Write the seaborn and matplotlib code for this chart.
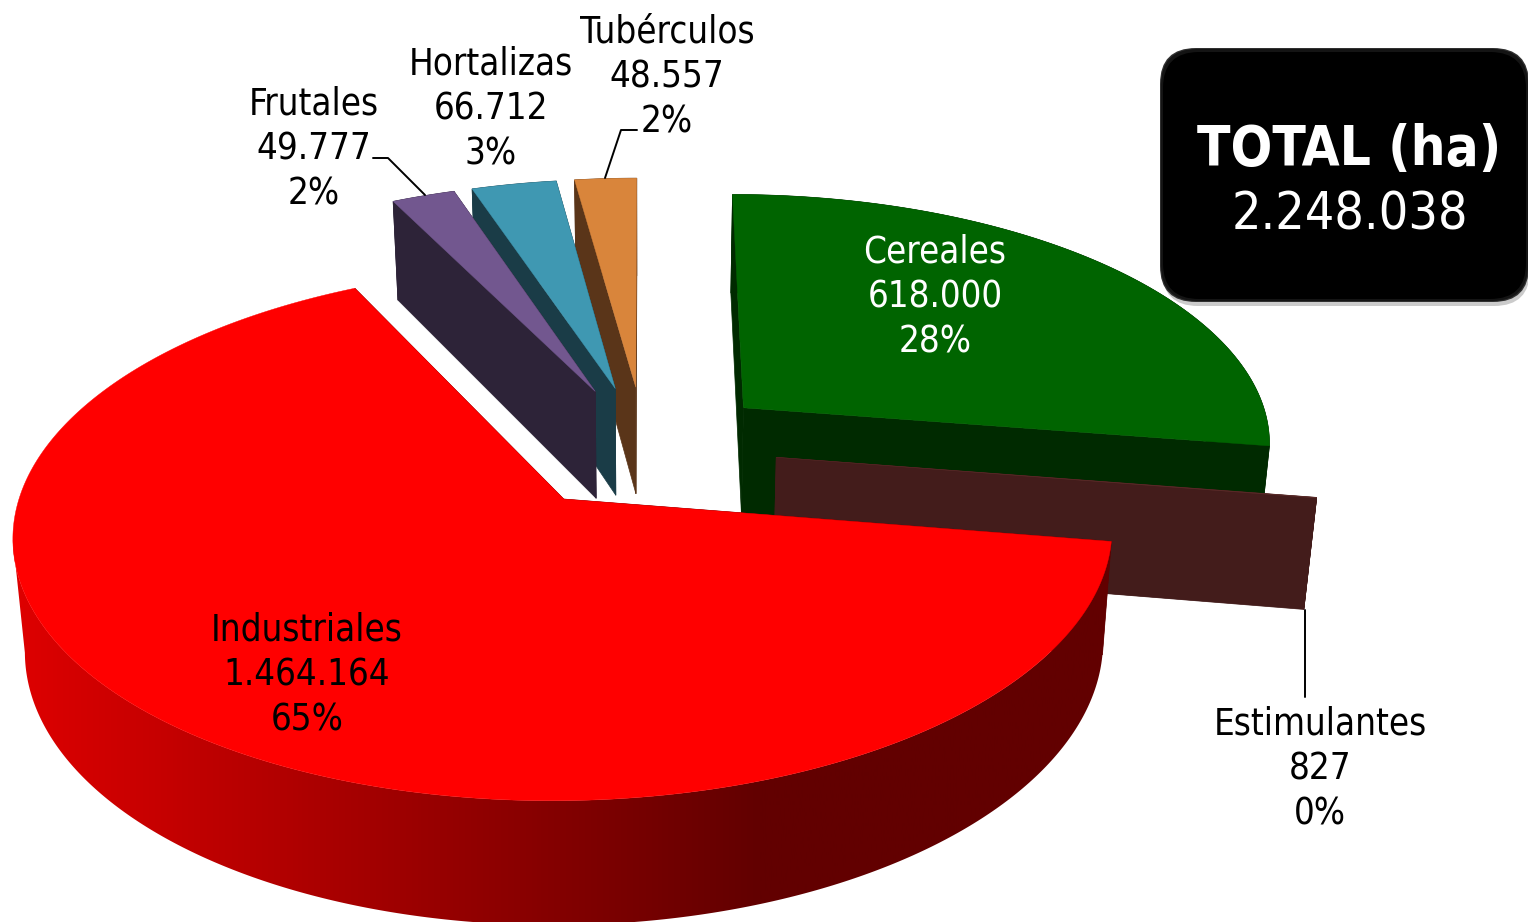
"""
plot.py
Superficie cultivada por grupo de cultivo - exploded 3D pie, drawn by hand
since matplotlib has no perspective pie.
"""

import numpy as np
import matplotlib
matplotlib.use("Agg")
import matplotlib.pyplot as plt
from matplotlib import font_manager
from matplotlib.patches import Polygon, FancyBboxPatch
import seaborn as sns

# ── Data ──────────────────────────────────────────────────────────────────────
# pie order, clockwise from the top
categories = ["Cereales", "Estimulantes", "Industriales", "Frutales", "Hortalizas", "Tubérculos"]
hectares = [618000, 827, 1464164, 49777, 66712, 48557]
percent_labels = ["28%", "0%", "65%", "2%", "3%", "2%"]
total_label = "2.248.038"

top_colors = ["#006400", "#5a2a28", "#ff0000", "#72578f", "#3f98b2", "#d9853b"]
side_colors = ["#002a00", "#431c1b", "#620000", "#2d2338", "#1a3c47", "#5a3519"]

# ── Projection of the pie plane (fitted to the picture) ───────────────────────
CX, CY, A, B, K = 644.5, 447.5, 531, 249.5, 0.126
EXPLODE = 0.25
VX, SHRINK, DROP, STRETCH = 644, 0.981, 90, 1.043
START_ANGLE = 90


def project(X, Y):
    w = 1 + K * Y
    return CX + A * X / w, CY - B * Y / w


def lower(x, y):
    return VX + SHRINK * (x - VX), DROP + STRETCH * y


def wedge_outline(a0, a1, n=400):
    """apex and outer arc of a wedge on the top plane, angles in degrees"""
    mid = np.radians((a0 + a1) / 2)
    ox, oy = EXPLODE * np.cos(mid), EXPLODE * np.sin(mid)
    t = np.radians(np.linspace(a0, a1, n))
    apex = project(ox, oy)
    arc_x, arc_y = project(ox + np.cos(t), oy + np.sin(t))
    return np.array(apex), np.column_stack([arc_x, arc_y])


def drop_pts(pts):
    x, y = lower(pts[..., 0], pts[..., 1])
    return np.stack([x, y], axis=-1)


sns.set_theme(style="white")
plt.rcParams["font.family"] = ["DejaVu Sans"]
label_font = font_manager.FontProperties(family="DejaVu Sans", stretch="condensed", size=26.3)
bold_font = font_manager.FontProperties(family="DejaVu Sans", stretch="condensed", weight="bold", size=39.3)
plain_font = font_manager.FontProperties(family="DejaVu Sans", stretch="condensed", size=37.3)

fig = plt.figure(figsize=(15.28, 9.22), dpi=100)
ax = fig.add_axes([0, 0, 1, 1])

# ── Wedges ────────────────────────────────────────────────────────────────────
sweep = np.array(hectares) / sum(hectares) * 360
ends = START_ANGLE - np.cumsum(sweep)
starts = ends + sweep

# back slices first, the red one last
draw_order = ["Tubérculos", "Hortalizas", "Frutales", "Cereales", "Estimulantes", "Industriales"]
z = 2
for name in draw_order:
    i = categories.index(name)
    apex, arc = wedge_outline(starts[i], ends[i])
    low_apex, low_arc = drop_pts(apex), drop_pts(arc)
    side = side_colors[i]

    # the two cut faces
    for end_pt, low_end in ((arc[0], low_arc[0]), (arc[-1], low_arc[-1])):
        ax.add_patch(Polygon([apex, end_pt, low_end, low_apex], fc=side, ec=side, lw=0.5, zorder=z))
    z += 1

    # outer wall, only up to the silhouette point so the polygon does not cross itself
    if name == "Industriales":
        k = np.argmin(arc[:, 0]) + 1
        wall = np.vstack([arc[:k], low_arc[:k][::-1]])
        gx = np.linspace(0, 1528, 512)
        shade = np.clip((gx - 13) / (760 - 13), 0, 1)
        cmap = sns.blend_palette(["#de0000", side], as_cmap=True)
        patch = Polygon(wall, fc="none", ec="none", zorder=z)
        ax.add_patch(patch)
        im = ax.imshow(shade[None, :], extent=(0, 1528, 922, 0), cmap=cmap, vmin=0, vmax=1,
                       aspect="auto", zorder=z)
        im.set_clip_path(patch)
    else:
        wall = np.vstack([arc, low_arc[::-1]])
        ax.add_patch(Polygon(wall, fc=side, ec=side, lw=0.5, zorder=z))
    z += 1

    # top face
    ax.add_patch(Polygon(np.vstack([apex, arc]), fc=top_colors[i], ec=top_colors[i], lw=0.3, zorder=z))
    z += 1

# ── Leader lines ──────────────────────────────────────────────────────────────
ax.plot([373, 388, 425], [158, 158, 195], color="black", lw=1.4, zorder=z)
ax.plot([637, 621, 605], [130, 130, 178], color="black", lw=1.4, zorder=z)
ax.plot([1305, 1305], [610, 697], color="black", lw=1.4, zorder=z)

# ── Labels ────────────────────────────────────────────────────────────────────
label_x = [935, 1320, 307, 314, 491, 667]
label_base = [262.5, 734.5, 640.5, 114.5, 74.5, 42.5]
label_color = ["white", "black", "black", "black", "black", "black"]
LINE_STEP = 45
for i, name in enumerate(categories):
    value = f"{hectares[i]:,}".replace(",", ".")
    for j, line in enumerate([name, value, percent_labels[i]]):
        ax.text(label_x[i], label_base[i] + j * LINE_STEP, line, color=label_color[i],
                ha="center", va="baseline", fontproperties=label_font, zorder=z + 1)

# ── Total box ─────────────────────────────────────────────────────────────────
box_style = "round,pad=0,rounding_size=36"
ax.add_patch(FancyBboxPatch((1162, 52), 368, 254, boxstyle=box_style, fc="#b5b5b5", ec="none", alpha=0.7, zorder=z + 2))
ax.add_patch(FancyBboxPatch((1160, 48), 369, 254, boxstyle=box_style, fc="#303030", ec="none", zorder=z + 3))
ax.add_patch(FancyBboxPatch((1161, 49), 367, 252, boxstyle=box_style, fc="#141414", ec="none", zorder=z + 4))
ax.add_patch(FancyBboxPatch((1163, 52), 363, 247, boxstyle=box_style, fc="#000000", ec="none", zorder=z + 5))
ax.text(1349.5, 165, "TOTAL (ha)", color="white", ha="center", va="baseline",
        fontproperties=bold_font, zorder=z + 6)
ax.text(1349.5, 229, total_label, color="white", ha="center", va="baseline",
        fontproperties=plain_font, zorder=z + 6)

ax.set_xlim(0, 1528)
ax.set_ylim(922, 0)
ax.axis("off")

fig.savefig("out.png", dpi=100, facecolor="white")
